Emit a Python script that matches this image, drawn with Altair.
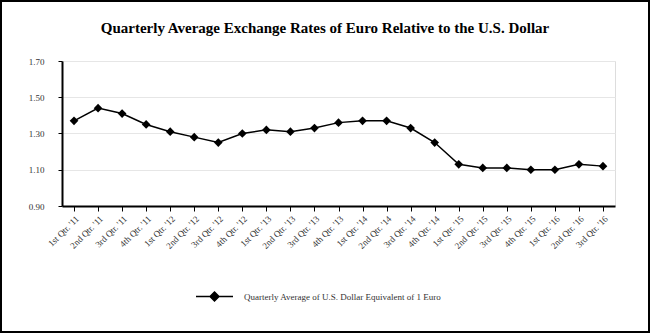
import altair as alt
import pandas as pd

quarters = ["1st Qtr. '11", "2nd Qtr. '11", "3rd Qtr. '11", "4th Qtr. '11",
            "1st Qtr. '12", "2nd Qtr. '12", "3rd Qtr. '12", "4th Qtr. '12",
            "1st Qtr. '13", "2nd Qtr. '13", "3rd Qtr. '13", "4th Qtr. '13",
            "1st Qtr. '14", "2nd Qtr. '14", "3rd Qtr. '14", "4th Qtr. '14",
            "1st Qtr. '15", "2nd Qtr. '15", "3rd Qtr. '15", "4th Qtr. '15",
            "1st Qtr. '16", "2nd Qtr. '16", "3rd Qtr. '16"]
rates = [1.37, 1.44, 1.41, 1.35, 1.31, 1.28, 1.25, 1.30, 1.32, 1.31, 1.33, 1.36,
         1.37, 1.37, 1.33, 1.25, 1.13, 1.11, 1.11, 1.10, 1.10, 1.13, 1.12]
series_name = "Quarterly Average of U.S. Dollar Equivalent of 1 Euro"
title_text = "Quarterly Average Exchange Rates of Euro Relative to the U.S. Dollar"
y_ticks = [0.90, 1.10, 1.30, 1.50, 1.70]

df = pd.DataFrame({"quarter": quarters, "rate": rates, "series": [series_name] * len(quarters)})

FONT = "Liberation Serif, Times New Roman, serif"
W, H = 553, 145

x_enc = alt.X("quarter:N", sort=quarters, title=None,
              scale=alt.Scale(type="point", padding=0.5),
              axis=alt.Axis(labelAngle=-45, labelFontSize=9, labelFont=FONT, labelColor="#333",
                            domainColor="black", domainWidth=2, tickColor="black", tickSize=5,
                            tickWidth=1, labelPadding=3, grid=False))
y_enc = alt.Y("rate:Q", title=None,
              scale=alt.Scale(domain=[0.9, 1.7], nice=False, zero=False),
              axis=alt.Axis(values=y_ticks, format=".2f", labelFontSize=9, labelFont=FONT,
                            labelColor="#333", domainColor="black", domainWidth=2,
                            tickColor="black", tickSize=4, labelPadding=14,
                            grid=True, gridColor="#e6e6e6", gridWidth=1))
color_enc = alt.Color("series:N", scale=alt.Scale(range=["black"]),
                      legend=alt.Legend(title=None, orient="none", legendX=133, legendY=216,
                                        symbolType="M-1,0H1M0,-0.24L0.24,0L0,0.24L-0.24,0Z",
                                        symbolSize=1369, symbolStrokeWidth=1.5,
                                        symbolFillColor="black", symbolStrokeColor="black",
                                        labelFont=FONT, labelFontSize=9, labelColor="#333",
                                        labelOffset=10, labelLimit=0))

base = alt.Chart(df)
line = base.mark_line(strokeWidth=1.5).encode(x=x_enc, y=y_enc, color=color_enc)
pts = base.mark_point(shape="diamond", filled=True, size=75, opacity=1).encode(
    x=x_enc, y=y_enc, color=color_enc)

single = alt.Data(values=[{"t": title_text}])
border = alt.Chart(single).mark_rect(
    fill="transparent", stroke="black", strokeWidth=2).encode(
    x=alt.value(-61), x2=alt.value(W + 34), y=alt.value(-60), y2=alt.value(H + 126))
title = alt.Chart(single).mark_text(
    font=FONT, fontSize=15, fontWeight=700, color="black",
    align="center", baseline="alphabetic").encode(
    text="t:N", x=alt.value(263), y=alt.value(-28))

chart = alt.layer(line, pts, border, title).properties(
    width=W, height=H,
    autosize=alt.AutoSizeParams(type="none"),
    padding={"left": 62, "top": 61, "right": 35, "bottom": 127},
).configure_view(stroke="transparent").configure(background="white")

chart.save("out.html", embed_options={"renderer": "svg", "actions": False})
